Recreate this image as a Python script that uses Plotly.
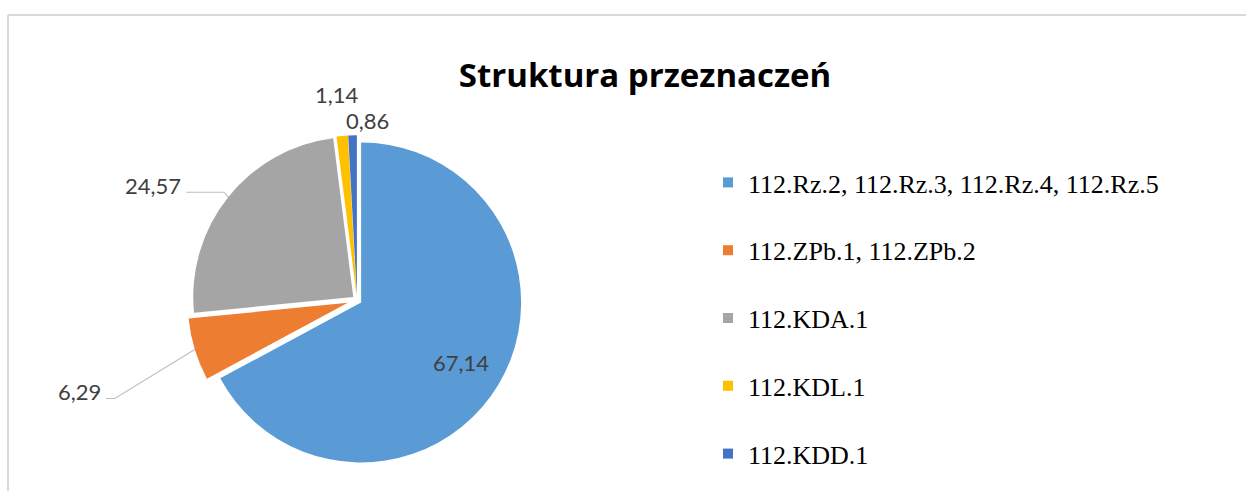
import math
import plotly.graph_objects as go

# ---- data ----
labels = ["112.Rz.2, 112.Rz.3, 112.Rz.4, 112.Rz.5", "112.ZPb.1, 112.ZPb.2",
          "112.KDA.1", "112.KDL.1", "112.KDD.1"]
values = [67.14, 6.29, 24.57, 1.14, 0.86]
colors = ["#5B9BD5", "#ED7D31", "#A5A5A5", "#FFC000", "#4472C4"]
title_text = "Struktura przeznaczeń"

# ---- layout constants (px) ----
W, H = 1246, 491
CX, CY = 357, 300
R = 160
pulls = [0.03, 0.06, 0.03, 0.03, 0.03]
RD = R * (1 + max(pulls))
dom_x = [(CX - RD) / W, (CX + RD) / W]
dom_y = [(H - CY - RD) / H, (H - CY + RD) / H]

label_font = dict(family="Lato", size=22, color="#404040")

fig = go.Figure()
fig.add_trace(go.Pie(
    labels=labels, values=values, sort=False, direction="clockwise", rotation=0,
    marker=dict(colors=colors, line=dict(color="white", width=0)),
    pull=pulls, domain=dict(x=dom_x, y=dom_y),
    textinfo="none", showlegend=False, hoverinfo="label+value",
))

# legend via dummy traces for spacing
for lab, col in zip(labels, colors):
    fig.add_trace(go.Scatter(x=[None], y=[None], mode="markers", name=lab,
                             legendgroup=lab,
                             marker=dict(symbol="square", size=10, color=col)))

# label placement style: (kind, dx, dy) relative to slice-edge point, or radius fraction
placement = {
    0: ("inside", 0.73),
    1: ("leader", -92, 42, 12),
    2: ("leader", -45, -12, 4),
    3: ("outside", -5, -41),
    4: ("outside", 15, -15),
}

def px2paper(x, y):
    return x / W, 1 - y / H

total = sum(values)
cum = 0
ann = []
shapes = []
for i, v in enumerate(values):
    a0 = cum / total * 360
    cum += v
    a1 = cum / total * 360
    mid = math.radians((a0 + a1) / 2)
    sx, sy = math.sin(mid), -math.cos(mid)
    pcx, pcy = CX + R * pulls[i] * sx, CY + R * pulls[i] * sy
    tip = (pcx + R * sx, pcy + R * sy)
    txt = f"{v:.2f}".replace(".", ",")
    p = placement[i]
    if p[0] == "inside":
        lx, ly = pcx + p[1] * R * sx, pcy + p[1] * R * sy
        x, y = px2paper(lx, ly)
        ann.append(dict(x=x, y=y, xref="paper", yref="paper", text=txt,
                        showarrow=False, xanchor="center", yanchor="middle",
                        font=label_font))
    elif p[0] == "outside":
        lx, ly = tip[0] + p[1], tip[1] + p[2]
        x, y = px2paper(lx, ly)
        ann.append(dict(x=x, y=y, xref="paper", yref="paper", text=txt,
                        showarrow=False, xanchor="center", yanchor="middle",
                        font=label_font))
    else:
        lx, ly = tip[0] + p[1], tip[1] + p[2]
        x, y = px2paper(lx, ly)
        ann.append(dict(x=x, y=y, xref="paper", yref="paper", text=txt,
                        showarrow=False, xanchor="right", yanchor="middle",
                        font=label_font))
        start = px2paper(lx + 3, ly + 7)
        if p[3] > 0 and p[1] < -60:
            elbow = px2paper(lx + p[3], ly + 7)
        else:
            elbow = px2paper(tip[0] - p[3], ly + 7)
        t = px2paper(*tip)
        path = (f"M {start[0]},{start[1]} L {elbow[0]},{elbow[1]} L {t[0]},{t[1]}")
        shapes.append(dict(type="path", path=path, xref="paper", yref="paper",
                           line=dict(color="#BFBFBF", width=1.2)))

# chart-area border (top and left)
shapes.append(dict(type="line", xref="paper", yref="paper", x0=8 / W, x1=1,
                   y0=1 - 15 / H, y1=1 - 15 / H, line=dict(color="#D9D9D9", width=2)))
shapes.append(dict(type="line", xref="paper", yref="paper", x0=8 / W, x1=8 / W,
                   y0=0, y1=1 - 15 / H, line=dict(color="#D9D9D9", width=2)))

fig.update_layout(
    width=W, height=H, margin=dict(l=0, r=0, t=0, b=0),
    paper_bgcolor="white", plot_bgcolor="white",
    separators=", ",
    title=dict(text=f"<b>{title_text}</b>", x=645 / W, y=1 - 75 / H,
               xanchor="center", yanchor="middle", xref="paper", yref="container",
               font=dict(family="Open Sans", size=33, color="#000000")),
    xaxis=dict(visible=False), yaxis=dict(visible=False),
    legend=dict(x=708 / W, y=1 - 159 / H, xanchor="left", yanchor="top",
                font=dict(family="Liberation Serif", size=26, color="#000000"),
                tracegroupgap=31, itemwidth=30, bgcolor="rgba(0,0,0,0)"),
    annotations=ann, shapes=shapes,
)

fig.write_html("out.html", config={"displayModeBar": False},
               post_script="document.body.style.margin='0';")
